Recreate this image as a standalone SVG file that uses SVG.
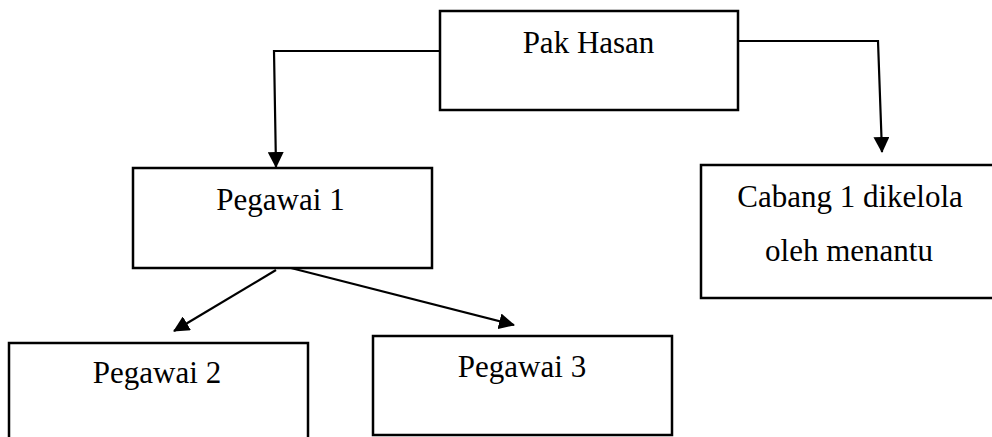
<svg xmlns="http://www.w3.org/2000/svg" width="992" height="437" viewBox="0 0 992 437">
<style>
.box{fill:#fff;stroke:#000;stroke-width:2.5}
.lbl{font-family:"Liberation Serif","Times New Roman",serif;font-size:31px;fill:#000;text-anchor:middle}
.con{fill:none;stroke:#000;stroke-width:2.2}
</style>
<defs>
<marker id="ah" markerUnits="userSpaceOnUse" markerWidth="16" markerHeight="16" viewBox="0 0 16 16" refX="15" refY="8" orient="auto">
<path d="M0,0 L16,8 L0,16 Z" fill="#000"/>
</marker>
</defs>
<rect width="992" height="437" fill="#fff"/>
<g id="connectors">
<path class="con" d="M440,51 L274,51 L276,167" marker-end="url(#ah)"/>
<path class="con" d="M737,41 L878,41 L882,152" marker-end="url(#ah)"/>
<path class="con" d="M276,270 L174,331" marker-end="url(#ah)"/>
<path class="con" d="M287,267 L514,325" marker-end="url(#ah)"/>
</g>
<g id="pak-hasan">
<rect class="box" x="440" y="11" width="298" height="99"/>
<text class="lbl" x="588.5" y="53">Pak Hasan</text>
</g>
<g id="pegawai-1">
<rect class="box" x="133" y="168" width="299" height="100"/>
<text class="lbl" x="280.5" y="210">Pegawai 1</text>
</g>
<g id="cabang-1">
<rect class="box" x="701" y="165" width="300" height="133"/>
<text class="lbl" x="850" y="207">Cabang 1 dikelola</text>
<text class="lbl" x="849" y="261">oleh menantu</text>
</g>
<g id="pegawai-2">
<rect class="box" x="9" y="343" width="299" height="110"/>
<text class="lbl" x="157" y="383">Pegawai 2</text>
</g>
<g id="pegawai-3">
<rect class="box" x="373" y="336" width="299" height="99"/>
<text class="lbl" x="522" y="377">Pegawai 3</text>
</g>
</svg>
